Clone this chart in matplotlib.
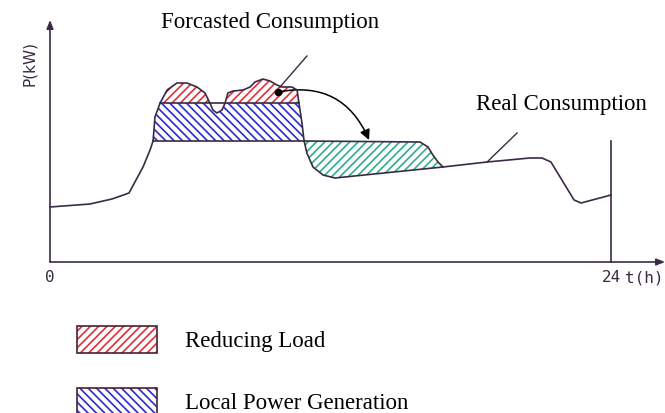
import numpy as np
import matplotlib
matplotlib.use("Agg")
from matplotlib import pyplot as plt
from matplotlib.patches import Rectangle, FancyArrowPatch

# real consumption curve (t in h, P in kW)
t_real = [0, 1.71, 2.65, 3.38, 3.98, 4.28, 4.41, 4.49, 4.71, 5.01, 5.43, 5.86,
          6.29, 6.63, 6.84, 6.97, 7.14, 7.36, 7.49, 7.61, 7.83, 8.26, 8.56, 8.77,
          9.11, 9.41, 9.71, 9.93, 10.35, 10.57, 10.65, 10.78, 10.87, 10.99, 11.25,
          11.68, 12.19, 16.81, 18.70, 20.53, 21.05, 21.43, 22.42, 22.72, 24.0]
p_real = [27.5, 29, 31.5, 34.5, 47.5, 56, 60.5, 72.5, 79.5, 86, 89.5, 89.5,
          87.5, 84.5, 79.5, 76, 74.5, 76, 79.5, 84.5, 85.5, 86, 87.5, 90,
          91.5, 90.5, 88.5, 87.5, 87.5, 86, 79.5, 69.5, 60.5, 54.5, 47.5,
          43.5, 42, 47.5, 50, 52, 52, 50, 31, 29.5, 33.5]

# forecasted consumption after the shifted load
t_fc = [10.87, 15.83, 16.17, 16.38, 16.60, 16.81]
p_fc = [60.5, 60, 57.5, 53.5, 50, 47.5]

# local generation band
gen_start, gen_end = 4.41, 10.87
red_start, red_end = 4.71, 10.65
gen_low, gen_high = 60.5, 79.5
p_end = 60.5  # height of the 24 h marker

dark = "#3b2a45"
red = "#e0303a"
blue = "#2a2ad0"
green = "#2fae8a"

plt.rcParams['hatch.linewidth'] = 1.2

fig = plt.figure(figsize=(6.65, 4.13), dpi=100)
ax = fig.add_axes([0, 0, 1, 1])
ax.set_xlim(-2.139, 26.31)
ax.set_ylim(-75.5, 131)
ax.axis('off')

tt = np.linspace(0, 24, 4000)
real_i = np.interp(tt, t_real, p_real)
fc_i = np.interp(tt, t_fc, p_fc)

# hatched areas
band = (tt >= gen_start) & (tt <= gen_end)
ax.fill_between(tt, gen_high, real_i, where=band & (real_i > gen_high),
                interpolate=True, facecolor='none', edgecolor=red,
                hatch='////', linewidth=0)
ax.fill_between(tt, gen_low, np.minimum(real_i, gen_high), where=band,
                facecolor='none', edgecolor=blue, hatch='\\\\\\\\', linewidth=0)
shift = (tt >= t_fc[0]) & (tt <= t_fc[-1])
ax.fill_between(tt, real_i, fc_i, where=shift, facecolor='none',
                edgecolor=green, hatch='////', linewidth=0)

# outlines
ax.plot(t_real, p_real, color=dark, lw=1.2)
ax.plot(t_fc, p_fc, color=dark, lw=1.2)
ax.plot([gen_start, gen_end], [gen_low, gen_low], color=dark, lw=1.2)
ax.plot([red_start, red_end], [gen_high, gen_high], color=dark, lw=1.2)
ax.plot([24, 24], [0, p_end], color=dark, lw=1.2)

# axes with arrows
ax.annotate('', xy=(0, 121), xytext=(0, 0),
            arrowprops=dict(arrowstyle='-|>,head_length=0.5,head_width=0.2',
                            color=dark, lw=1.2, shrinkA=0, shrinkB=0))
ax.annotate('', xy=(26.31, 0), xytext=(0, 0),
            arrowprops=dict(arrowstyle='-|>,head_length=0.5,head_width=0.2',
                            color=dark, lw=1.2, shrinkA=0, shrinkB=0))

mono = 'DejaVu Sans Mono'
ax.text(0, -8, '0', ha='center', va='center', fontsize=11.5, family=mono, color=dark)
ax.text(24, -8, '24', ha='center', va='center', fontsize=11.5, family=mono, color=dark)
ax.text(25.41, -8, 't(h)', ha='center', va='center', fontsize=11.5, family=mono, color=dark)
ax.text(-0.89, 99, 'P(kW)', ha='center', va='center', rotation=90,
        fontsize=11, color=dark)

# shifted load arrow
ax.plot(9.75, 85, 'o', color='black', ms=4.5)
arr = FancyArrowPatch((9.75, 85), (13.65, 61), connectionstyle='arc3,rad=-0.4',
                      arrowstyle='-|>,head_length=6,head_width=3',
                      color='black', lw=1.1, shrinkA=0, shrinkB=0)
ax.add_patch(arr)

# labels with leader lines
serif = 'Liberation Serif'
ax.text(9.4, 117, 'Forcasted Consumption', ha='center', va='baseline',
        fontsize=16.5, family=serif, color='black')
ax.plot([10.99, 9.84], [103, 87.5], color=dark, lw=1.0)
ax.text(21.9, 76, 'Real Consumption', ha='center', va='baseline',
        fontsize=16.5, family=serif, color='black')
ax.plot([19.98, 18.70], [64.5, 50], color=dark, lw=1.0)

# legend
items = [('Reducing Load', red, '////', 326),
         ('Local Power Generation', blue, '\\\\\\\\', 388)]
for label, col, hatch, top in items:
    fig.patches.append(Rectangle((77 / 665, 1 - (top + 27) / 413), 80 / 665, 27 / 413,
                                 transform=fig.transFigure, facecolor='none',
                                 edgecolor=col, hatch=hatch, lw=0))
    fig.patches.append(Rectangle((77 / 665, 1 - (top + 27) / 413), 80 / 665, 27 / 413,
                                 transform=fig.transFigure, facecolor='none',
                                 edgecolor='#4a2030', lw=1.2))
    fig.text(185 / 665, 1 - (top + 21) / 413, label, ha='left', va='baseline',
             fontsize=16.5, family=serif, color='black')

fig.savefig('out.png', dpi=100)
